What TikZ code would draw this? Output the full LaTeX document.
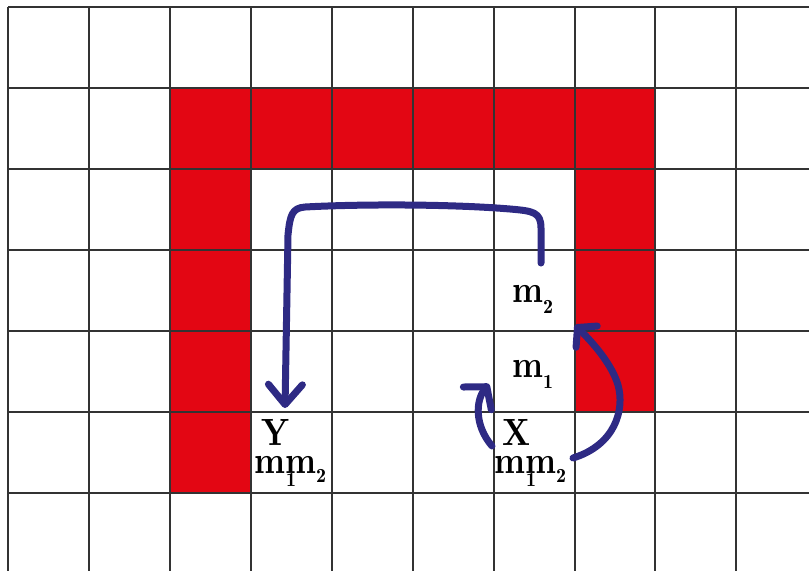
\documentclass[tikz,border=0pt]{standalone}
\usepackage{fontspec}
\newfontfamily\lblfont[FakeStretch=0.85]{lmroman10-bold.otf}
\newfontfamily\subfont{lmromandemi10-regular.otf}
\usetikzlibrary{arrows.meta}
\definecolor{cellred}{HTML}{E30613}
\definecolor{arrowblue}{HTML}{2E2A84}
\definecolor{gridgray}{HTML}{333333}
\newcommand\sbs[2][11pt]{\raisebox{-#1}{\subfont\fontsize{20}{20}\selectfont #2}}
\begin{document}
\begin{tikzpicture}[x=1pt,y=-1pt,
  gridline/.style={gridgray,line width=2pt},
  redcell/.style={fill=cellred,draw=none},
  lbl/.style={inner sep=0pt,anchor=base west,font=\lblfont\fontsize{38}{40}\selectfont},
  flow/.style={arrowblue,line width=7pt,line cap=round,line join=round}]
\useasboundingbox (0,0) rectangle (809,571);
% red cells
\fill[redcell] (170,88) rectangle (655,169);
\fill[redcell] (170,88) rectangle (251,493);
\fill[redcell] (575,88) rectangle (655,412);
% grid
\foreach \gx in {8,89,170,251,332,413,494,575,655,736} \draw[gridline] (\gx,7) -- (\gx,571);
\foreach \gy in {7,88,169,250,331,412,493} \draw[gridline] (8,\gy) -- (809,\gy);
% labels
\node[lbl] (m2) at (512,302) {m\sbs{2}};
\node[lbl] (m1) at (512,377) {m\sbs{1}};
\node[lbl] (X) at (502,445) {X};
\node[lbl] (Y) at (261,445) {Y};
\node[lbl] (Xm) at (494,473) {m\rlap{\kern1pt\sbs[13pt]{1}}m\sbs[9pt]{2}};
\node[lbl] (Ym) at (254,473) {m\rlap{\kern1pt\sbs[13pt]{1}}m\sbs[9pt]{2}};
% connector end points
\coordinate (a1s) at (541,263);
\coordinate (a1e) at (285,408);
\coordinate (a2s) at (492,446);
\coordinate (a2e) at (489,384);
\coordinate (a3s) at (573,458);
\coordinate (a3e) at (575,325);
% arrows
\draw[flow,-{Straight Barb[length=20pt,width=34pt,round]}]
  (a1s) -- (541,228) .. controls (541,212) and (533,211) .. (510,209)
  .. controls (450,204) and (360,204) .. (305,207)
  .. controls (292,208) and (290,215) .. (288,235) -- (a1e);
\draw[flow,-{Straight Barb[length=15pt,width=36pt,round]}]
  (a2s) .. controls (474,425) and (476,400) .. (a2e);
\draw[flow,-{Straight Barb[length=13pt,width=30pt,round]}]
  (a3s) .. controls (615,445) and (625,410) .. (618,385)
  .. controls (612,365) and (595,345) .. (a3e);
\end{tikzpicture}
\end{document}
